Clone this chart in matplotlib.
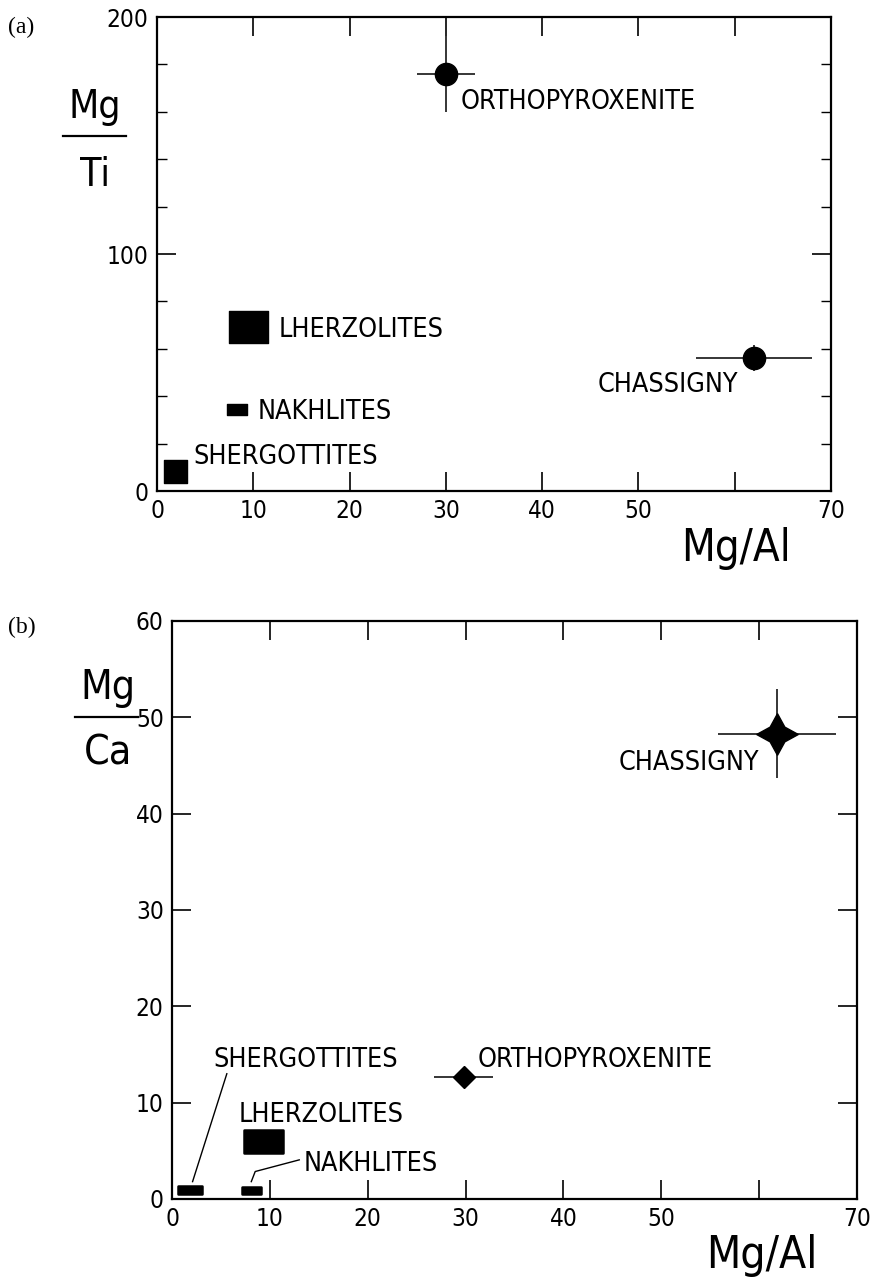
import os
import matplotlib
matplotlib.use("Agg")
import matplotlib.pyplot as plt
from matplotlib import font_manager
from matplotlib.font_manager import FontProperties
from matplotlib.patches import Rectangle
from matplotlib.lines import Line2D

# box-shaped groups (ranges)
box_names = ["SHERGOTTITES", "NAKHLITES", "LHERZOLITES"]
a_box_mgal = [(0.7, 3.1), (7.3, 9.3), (7.5, 11.5)]
a_box_mgti = [(3.5, 13.0), (32.0, 36.7), (62.5, 76.0)]
b_box_mgal = [(0.6, 3.1), (7.2, 9.1), (7.4, 11.3)]
b_box_mgca = [(0.5, 1.3), (0.55, 1.25), (4.8, 7.2)]

# single meteorites with error bars
pt_names = ["ORTHOPYROXENITE", "CHASSIGNY"]
a_pt_mgal = [30.0, 62.0]
a_pt_mgal_err = [3.0, 6.0]
a_pt_mgti = [176.0, 56.0]
a_pt_mgti_err = [16.0, 5.5]
b_pt_mgal = [29.8, 61.8]
b_pt_mgal_err = [3.0, 6.0]
b_pt_mgca = [12.7, 48.3]
b_pt_mgca_err = [0.6, 4.6]

x_ticks = [0, 10, 20, 30, 40, 50, 60, 70]
x_ticklabels = ["0", "10", "20", "30", "40", "50", "", "70"]


def pick_narrow_font():
    files = set(font_manager.findSystemFonts())
    files |= {f.fname for f in font_manager.fontManager.ttflist}
    base = {os.path.basename(f): f for f in files}
    prefs = ["DejaVuSansCondensed.ttf", "LiberationSansNarrow-Regular.ttf",
             "RobotoCondensed-Regular.ttf", "NotoSans-Condensed.ttf",
             "NotoSans-SemiCondensed.ttf", "OpenSans-CondensedRegular.ttf"]
    for p in prefs:
        if p in base:
            return base[p]
    for b, f in sorted(base.items()):
        low = b.lower()
        if ("condensed" in low or "narrow" in low) and not any(
                k in low for k in ("bold", "italic", "oblique", "light", "thin",
                                   "black", "medium", "semibold", "extra")):
            return f
    return None


narrow = pick_narrow_font()


def fp_of(size):
    if narrow:
        return FontProperties(fname=narrow, size=size)
    return FontProperties(family="DejaVu Sans", size=size)


fig = plt.figure(figsize=(8.71, 12.8), dpi=100)
renderer = fig.canvas.get_renderer()


def fitted(sample, target_w, target_cap, base=20.0):
    # compromise between matching the width and the cap height of the lettering
    fp = fp_of(base)
    w, _, _ = renderer.get_text_width_height_descent(sample, fp, ismath=False)
    h, _ = renderer.get_text_width_height_descent("H", fp, ismath=False)[1:]
    return fp_of(base * ((target_w / w) * (target_cap / h)) ** 0.5)


FP_TICK = fitted("200", 40, 19)
FP_LAB = fitted("ORTHOPYROXENITE", 217, 22)
FP_AXA = fitted("Mg/Al", 107, 34)
FP_AXB = fitted("Mg/Al", 110, 34)
FP_FRA = fitted("Mg", 50, 31)
FP_FRB = fitted("Mg", 55, 31)


def frame(ax, ymax, yticks, yticklabels, yminor=None):
    ax.set_xlim(0, 70)
    ax.set_ylim(0, ymax)
    for s in ax.spines.values():
        s.set_linewidth(1.6)
    ax.set_xticks(x_ticks)
    ax.set_xticklabels(x_ticklabels, fontproperties=FP_TICK)
    ax.set_yticks(yticks)
    ax.set_yticklabels(yticklabels, fontproperties=FP_TICK)
    if yminor is not None:
        ax.set_yticks(yminor, minor=True)
    ax.tick_params(which='major', direction='in', top=True, right=True,
                   length=14, width=1.2, pad=6)
    ax.tick_params(which='minor', direction='in', left=True, right=True,
                   length=7, width=1.0)


def fraction(ax, top, bottom, fp, xc, y_top, y_line, y_bot, x0, x1):
    ax.text(xc, y_top, top, transform=ax.transAxes, fontproperties=fp,
            ha='center', va='baseline')
    ax.add_line(Line2D([x0, x1], [y_line, y_line], transform=ax.transAxes,
                       color='k', lw=1.6, clip_on=False))
    ax.text(xc, y_bot, bottom, transform=ax.transAxes, fontproperties=fp,
            ha='center', va='baseline')


def label(ax, x, y, s, ha='left'):
    ax.text(x, y, s, fontproperties=FP_LAB, va='baseline', ha=ha)


# ---------------- (a) Mg/Ti vs Mg/Al ----------------
ax1 = fig.add_axes([0.1803, 0.6164, 0.7738, 0.3703])
frame(ax1, 200, [0, 100, 200], ["0", "100", "200"],
      yminor=[20, 40, 60, 80, 120, 140, 160, 180])

for (x0, x1), (y0, y1) in zip(a_box_mgal, a_box_mgti):
    ax1.add_patch(Rectangle((x0, y0), x1 - x0, y1 - y0, fc='k', ec='k',
                            lw=1.0, joinstyle='round', zorder=3))

ax1.errorbar(a_pt_mgal, a_pt_mgti, xerr=a_pt_mgal_err, yerr=a_pt_mgti_err,
             fmt='none', ecolor='k', elinewidth=1.1, capsize=0, zorder=3)
ax1.plot(a_pt_mgal, a_pt_mgti, 'o', color='k', ms=16, zorder=4)

label(ax1, 3.8, 11.6, "SHERGOTTITES")
label(ax1, 10.4, 30.4, "NAKHLITES")
label(ax1, 12.6, 64.8, "LHERZOLITES")
label(ax1, 31.5, 161.2, "ORTHOPYROXENITE")
label(ax1, 60.4, 41.8, "CHASSIGNY", ha='right')

ax1.text(0.859, -0.148, "Mg/Al", transform=ax1.transAxes, fontproperties=FP_AXA,
         ha='center', va='baseline')
fraction(ax1, "Mg", "Ti", FP_FRA, -0.092, 0.788, 0.749, 0.643, -0.1395, -0.046)

# ---------------- (b) Mg/Ca vs Mg/Al ----------------
ax2 = fig.add_axes([0.1975, 0.0633, 0.7865, 0.4516])
frame(ax2, 60, [0, 10, 20, 30, 40, 50, 60],
      ["0", "10", "20", "30", "40", "50", "60"])

for (x0, x1), (y0, y1) in zip(b_box_mgal, b_box_mgca):
    ax2.add_patch(Rectangle((x0, y0), x1 - x0, y1 - y0, fc='k', ec='k',
                            lw=1.8, joinstyle='round', zorder=3))

ax2.errorbar(b_pt_mgal, b_pt_mgca, xerr=b_pt_mgal_err, yerr=b_pt_mgca_err,
             fmt='none', ecolor='k', elinewidth=1.1, capsize=0, zorder=3)
ax2.plot(b_pt_mgal[0], b_pt_mgca[0], 'D', color='k', ms=11.5, zorder=4)
ax2.plot(b_pt_mgal[1], b_pt_mgca[1], marker=(4, 1, 0), color='k', ms=30,
         ls='none', zorder=4)
ax2.plot(b_pt_mgal[1], b_pt_mgca[1], 'D', color='k', ms=11, zorder=4)

label(ax2, 4.2, 13.7, "SHERGOTTITES")
ax2.plot([2.1, 5.6], [1.8, 13.0], color='k', lw=1.0)
label(ax2, 6.8, 8.0, "LHERZOLITES")
label(ax2, 13.4, 2.94, "NAKHLITES")
ax2.plot([8.1, 8.5, 13.0], [1.8, 2.85, 4.06], color='k', lw=1.0)
label(ax2, 31.2, 13.7, "ORTHOPYROXENITE")
label(ax2, 60.0, 44.5, "CHASSIGNY", ha='right')

ax2.text(0.861, -0.119, "Mg/Al", transform=ax2.transAxes, fontproperties=FP_AXB,
         ha='center', va='baseline')
fraction(ax2, "Mg", "Ca", FP_FRB, -0.094, 0.865, 0.834, 0.751, -0.1416, -0.0496)

# panel letters
fig.text(0.009, 0.987, "(a)", family=['Liberation Serif', 'DejaVu Serif'],
         fontsize=17, va='top')
fig.text(0.009, 0.518, "(b)", family=['Liberation Serif', 'DejaVu Serif'],
         fontsize=17, va='top')

fig.savefig("out.png", dpi=100)
